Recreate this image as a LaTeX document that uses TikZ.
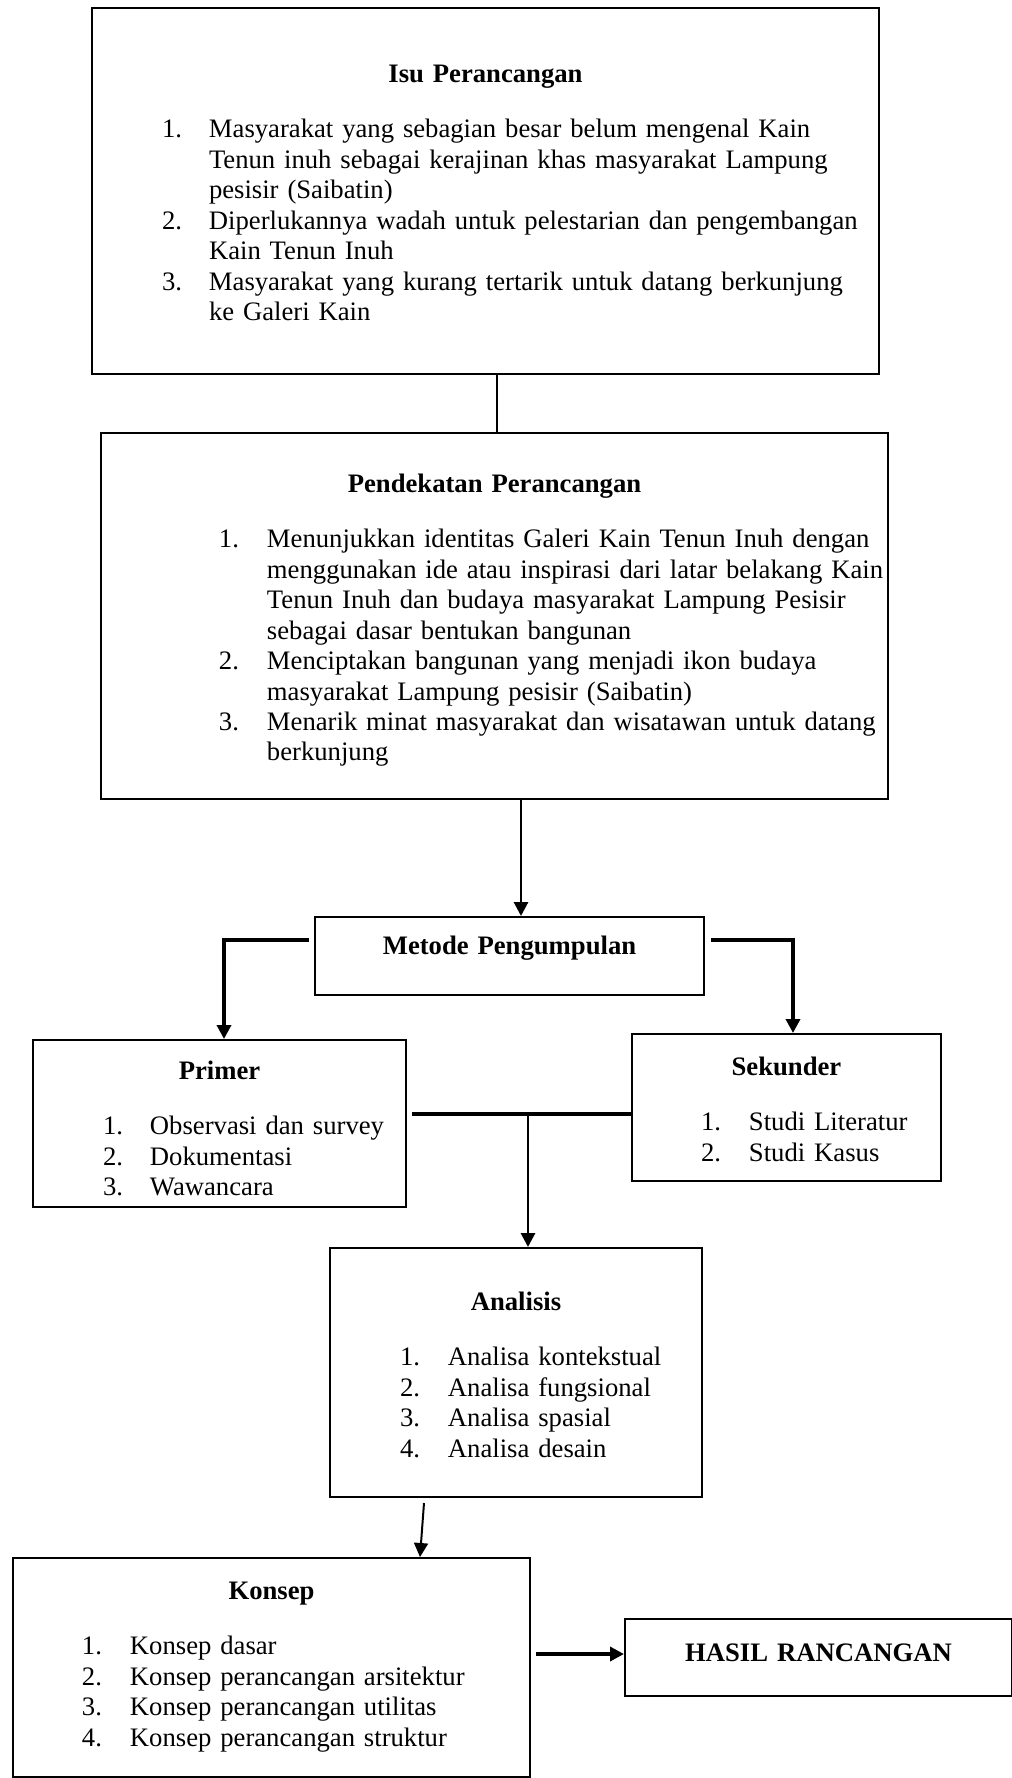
\documentclass[tikz,border=0pt]{standalone}
\usepackage{fontspec}
\setmainfont{Liberation Serif}
\usetikzlibrary{arrows.meta,positioning,calc}
\newdimen\pxu \pxu=0.45pt
\newcommand{\px}[1]{\the\dimexpr #1\pxu\relax}
\newcommand{\bodyfont}{\fontsize{12}{13.7}\selectfont}
\newcommand{\boxtitle}[1]{{\centering\bfseries #1\par}}
\newcommand{\numlist}[3]{\vspace{\px{25.4}}\noindent\hspace*{\px{#1}}%
  \begin{tabular}[t]{@{}p{\px{#2}}@{}l@{}}#3\end{tabular}}
\tikzset{
  box/.style={draw, line width=0.9pt, inner sep=0pt, anchor=north west, font=\bodyfont},
  link/.style={line width=1.3pt},
  heavy/.style={line width=1.6pt},
  thinlink/.style={line width=0.9pt},
  tip/.style={-{Triangle[length=6.3pt,width=6.3pt]}},
}
\begin{document}
\begin{tikzpicture}[x=0.45pt, y=-0.45pt]
  \useasboundingbox (0,0) rectangle (1011,1778);
  % boxes
  \node[box, text width=\px{787}, text height=\px{74}, text depth=\px{292}] (isu) at (91,7)
    {\boxtitle{Isu Perancangan}\numlist{70}{47}{%
      1. & Masyarakat yang sebagian besar belum mengenal Kain\\
         & Tenun inuh sebagai kerajinan khas masyarakat Lampung\\
         & pesisir (Saibatin)\\
      2. & Diperlukannya wadah untuk pelestarian dan pengembangan\\
         & Kain Tenun Inuh\\
      3. & Masyarakat yang kurang tertarik untuk datang berkunjung\\
         & ke Galeri Kain}};
  \node[box, text width=\px{787}, text height=\px{59}, text depth=\px{307}] (pend) at (100,432)
    {\boxtitle{Pendekatan Perancangan}\numlist{118}{48}{%
      1. & Menunjukkan identitas Galeri Kain Tenun Inuh dengan\\
         & menggunakan ide atau inspirasi dari latar belakang Kain\\
         & Tenun Inuh dan budaya masyarakat Lampung Pesisir\\
         & sebagai dasar bentukan bangunan\\
      2. & Menciptakan bangunan yang menjadi ikon budaya\\
         & masyarakat Lampung pesisir (Saibatin)\\
      3. & Menarik minat masyarakat dan wisatawan untuk datang\\
         & berkunjung}};
  \node[box, text width=\px{389}, text height=\px{37}, text depth=\px{41}] (metode) at (314,916)
    {\boxtitle{Metode Pengumpulan}};
  \node[box, text width=\px{373}, text height=\px{39}, text depth=\px{128}] (primer) at (32,1039)
    {\boxtitle{Primer}\numlist{70}{47}{%
      1. & Observasi dan survey\\
      2. & Dokumentasi\\
      3. & Wawancara}};
  \node[box, text width=\px{309}, text height=\px{41}, text depth=\px{106}] (sekunder) at (631,1033)
    {\boxtitle{Sekunder}\numlist{69}{48}{%
      1. & Studi Literatur\\
      2. & Studi Kasus}};
  \node[box, text width=\px{372}, text height=\px{62}, text depth=\px{187}] (analisis) at (329,1247)
    {\boxtitle{Analisis}\numlist{70}{48}{%
      1. & Analisa kontekstual\\
      2. & Analisa fungsional\\
      3. & Analisa spasial\\
      4. & Analisa desain}};
  \node[box, text width=\px{517}, text height=\px{41}, text depth=\px{178}] (konsep) at (12,1557)
    {\boxtitle{Konsep}\numlist{69}{48}{%
      1. & Konsep dasar\\
      2. & Konsep perancangan arsitektur\\
      3. & Konsep perancangan utilitas\\
      4. & Konsep perancangan struktur}};
  \node[box, text width=\px{387}, text height=\px{42}, text depth=\px{35}] (hasil) at (624,1618)
    {\boxtitle{HASIL RANCANGAN}};
  % connectors
  \draw[link] ($(isu.south west)+(406,0)$) -- ($(pend.north west)+(397,0)$);
  \draw[link, tip] ($(pend.south west)+(421,0)$) -- ($(metode.north west)+(207,0)$);
  \draw[heavy, tip] ($(metode.north west)+(-5,24)$) -| ($(primer.north west)+(192,0)$);
  \draw[heavy, tip] ($(metode.north east)+(6,24)$) -| ($(sekunder.north west)+(162,0)$);
  \coordinate (join) at ($(primer.north east)+(5,75)$);
  \draw[heavy] (join) -- (join -| sekunder.west);
  \coordinate (ain) at ($(analisis.north west)+(199,0)$);
  \draw[link, tip] (ain |- join) -- (ain);
  \draw[thinlink, tip] ($(analisis.south west)+(95,5)$) -- ($(konsep.north west)+(408,0)$);
  \coordinate (kout) at ($(konsep.north east)+(5,97)$);
  \draw[heavy, tip] (kout) -- (kout -| hasil.west);
\end{tikzpicture}
\end{document}
